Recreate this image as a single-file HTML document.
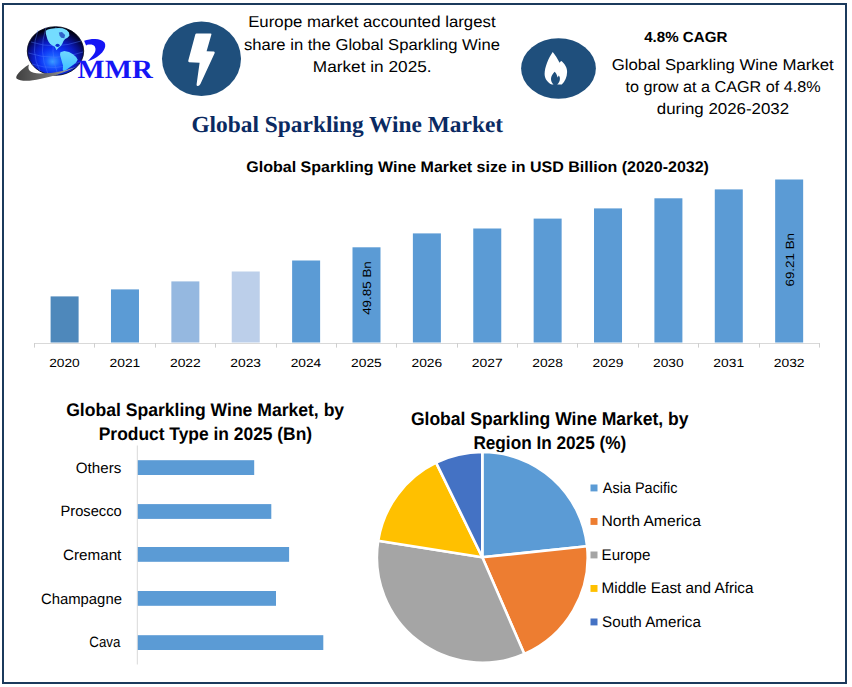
<!DOCTYPE html><html><head><meta charset="utf-8"><style>*{margin:0;padding:0}html,body{width:852px;height:687px;background:#fff;overflow:hidden}svg{position:absolute;left:0;top:0;display:block}text{font-family:"Liberation Sans",sans-serif}.sf{font-family:"Liberation Serif",serif}</style></head><body>
<svg width="852" height="687" viewBox="0 0 852 687" text-rendering="geometricPrecision">
<defs>
<linearGradient id="sa" x1="0" y1="0" x2="0" y2="1"><stop offset="0" stop-color="#70d8ff"/><stop offset="1" stop-color="#3cc0ff"/></linearGradient>
<radialGradient id="gl" cx="0.5" cy="0.66" r="0.62" fx="0.45" fy="0.72">
<stop offset="0" stop-color="#3a9cff"/><stop offset="0.2" stop-color="#1a5cff"/><stop offset="0.42" stop-color="#0c30f0"/><stop offset="0.62" stop-color="#0a1cc0"/><stop offset="0.78" stop-color="#070e80"/><stop offset="0.9" stop-color="#030640"/><stop offset="1" stop-color="#000010"/>
</radialGradient>
<linearGradient id="sw" x1="0" y1="0" x2="1" y2="0">
<stop offset="0" stop-color="#404040"/><stop offset="0.6" stop-color="#777"/><stop offset="1" stop-color="#b5b5b5"/>
</linearGradient>
</defs>
<rect x="3" y="4" width="843" height="679" fill="none" stroke="#1b3a5c" stroke-width="2"/>
<ellipse cx="55.5" cy="51" rx="28.2" ry="24.3" fill="url(#gl)" stroke="#000418" stroke-width="0.8"/>
<g stroke="#4d7bff" stroke-width="0.6" fill="none" opacity="0.7"><path d="M31,42 Q55,50 81,41"/><path d="M28.5,53 Q55,62 83,52"/><path d="M32,64 Q55,72 80,62"/><path d="M38,30 Q30,52 40,71"/><path d="M46,27.5 Q38,52 48,74"/><path d="M56,27 Q49,52 58,75.3"/></g>
<path d="M45.8,30.7 L47.8,29.5 L50.9,28.7 L54.9,28.3 L58.8,27.9 L62.7,28.3 L66.7,29.9 L69,32.6 L69.4,35.8 L67.5,37.8 L65.1,38.9 L63.5,40.9 L62.3,43.7 L60.8,46 L58.8,47.6 L57.2,49.2 L56.4,50.3 L55.7,48.4 L54.5,46.4 L52.5,45.6 L50.2,44 L48.6,41.7 L47.4,39.3 L46.6,36.6 L45.8,33.4 Z" fill="#74dcff"/>
<path d="M58.8,32.6 L62,31.9 L65.1,35 L64.3,38.2 L61.2,37.8 L59.6,35.8 Z" fill="#1a3ab8" opacity="0.75"/>
<ellipse cx="57.6" cy="45.3" rx="2.1" ry="1.6" fill="#0a30d0"/>
<path d="M60.4,52.3 L64.3,51.1 L69,51.9 L73,54.3 L76.1,57 L77.7,59.8 L76.1,62.5 L73,64.9 L69.8,67.2 L66.7,69.6 L63.9,72 L62.7,69.6 L63.1,65.7 L61.9,61.7 L60.8,57.8 L60,54.7 Z" fill="url(#sa)"/>
<path d="M29,64.5 C27,70 30,73.5 40,73.5 C55,73.5 68,70 78,66 C68,71 55,76 40,79 C30,81.5 20,81.5 16.5,78.5 C15,76 20,70 29,64.5 Z" fill="url(#sw)"/>
<path d="M84.1,40.7 C88,39.2 92,38.8 95.3,38.9 C99,39 102.5,40.2 104.5,42.4 C105.8,44.5 105.3,47.5 104,49.8 C102,53.5 98,56.5 94,58.8 C91.5,60 89.5,60.8 87.9,61 C89.5,59.5 92.5,56 94.4,53.3 C95.6,51 96,48.5 94.8,46.4 C93.8,44.8 91,44.3 88.7,44.6 C87.5,44.7 86.7,45.1 86.1,45.5 Z" fill="#1515f5"/>
<text class="sf" x="77.57" y="77.5" font-size="26.5" font-weight="bold" fill="#1515f5" textLength="75.14" lengthAdjust="spacingAndGlyphs">MMR</text>
<ellipse cx="201.5" cy="58.8" rx="39.5" ry="37.2" fill="#1f4f7c"/>
<path d="M196.5,33.4 L210.5,33.4 Q211.8,33.4 211.4,34.6 L206.6,51.2 L213.8,51.6 Q215.2,52 214.6,53.2 L200.4,84 Q198.8,86.8 197,85.8 Q196.4,85.3 196.6,84.3 L199.6,62.7 L189.2,62.2 Q187.8,62 188.3,60.6 L195.3,34.4 Q195.6,33.4 196.5,33.4 Z" fill="#fff"/>
<ellipse cx="558.5" cy="68.5" rx="37.4" ry="30.2" fill="#1f4f7c"/>
<path d="M552.7,51.9 C555,54.5 557.5,58.5 559.6,62.7 C560.2,61.8 560.8,61.2 561.5,61 C565,64 567.3,68 567.1,72 C567,77 565,81.5 561.8,84.4 L557.2,84.6 C559,83 560,80.5 559.9,78.4 C559.8,77 559.2,76 558.6,75.6 C558.4,76.5 558,77.2 557.6,77.5 C557,75 556,73 554.6,71.8 C552.5,74 551,76.5 551,79 C551,81.5 552.2,83.5 553.5,84.6 L552,84.6 C548,83 544.6,79 544.6,74 C544.6,67 548.5,58 552.7,51.9 Z" fill="#fff"/>
<text x="248.16" y="27.0" font-size="15.8" fill="#000" textLength="247.44" lengthAdjust="spacingAndGlyphs">Europe market accounted largest</text>
<text x="244.00" y="49.5" font-size="15.8" fill="#000" textLength="255.89" lengthAdjust="spacingAndGlyphs">share in the Global Sparkling Wine</text>
<text x="312.82" y="71.8" font-size="15.8" fill="#000" textLength="118.78" lengthAdjust="spacingAndGlyphs">Market in 2025.</text>
<text x="644.17" y="41.6" font-size="14.7" font-weight="bold" fill="#000" textLength="83.15" lengthAdjust="spacingAndGlyphs">4.8% CAGR</text>
<text x="611.76" y="69.5" font-size="15.6" fill="#000" textLength="221.97" lengthAdjust="spacingAndGlyphs">Global Sparkling Wine Market</text>
<text x="625.46" y="92" font-size="15.6" fill="#000" textLength="195.23" lengthAdjust="spacingAndGlyphs">to grow at a CAGR of 4.8%</text>
<text x="656.82" y="113.5" font-size="15.6" fill="#000" textLength="132.32" lengthAdjust="spacingAndGlyphs">during 2026-2032</text>
<text class="sf" x="191.43" y="131.8" font-size="23" font-weight="bold" fill="#0a2a62" textLength="311.70" lengthAdjust="spacingAndGlyphs">Global Sparkling Wine Market</text>
<text x="246.26" y="171.7" font-size="15.3" font-weight="bold" fill="#000" textLength="462.71" lengthAdjust="spacingAndGlyphs">Global Sparkling Wine Market size in USD Billion (2020-2032)</text>
<rect x="34" y="343" width="786" height="1" fill="#d9d9d9"/>
<rect x="34" y="343" width="1" height="4.6" fill="#cfcfcf"/>
<rect x="94" y="343" width="1" height="4.6" fill="#cfcfcf"/>
<rect x="155" y="343" width="1" height="4.6" fill="#cfcfcf"/>
<rect x="215" y="343" width="1" height="4.6" fill="#cfcfcf"/>
<rect x="276" y="343" width="1" height="4.6" fill="#cfcfcf"/>
<rect x="336" y="343" width="1" height="4.6" fill="#cfcfcf"/>
<rect x="396" y="343" width="1" height="4.6" fill="#cfcfcf"/>
<rect x="457" y="343" width="1" height="4.6" fill="#cfcfcf"/>
<rect x="517" y="343" width="1" height="4.6" fill="#cfcfcf"/>
<rect x="577" y="343" width="1" height="4.6" fill="#cfcfcf"/>
<rect x="638" y="343" width="1" height="4.6" fill="#cfcfcf"/>
<rect x="698" y="343" width="1" height="4.6" fill="#cfcfcf"/>
<rect x="759" y="343" width="1" height="4.6" fill="#cfcfcf"/>
<rect x="819" y="343" width="1" height="4.6" fill="#cfcfcf"/>
<rect x="50.60" y="296.4" width="28" height="46.10" fill="#4e88bb"/>
<text x="49.21" y="366.7" font-size="11.9" fill="#000" textLength="30.56" lengthAdjust="spacingAndGlyphs">2020</text>
<rect x="110.98" y="289.4" width="28" height="53.10" fill="#5b9bd5"/>
<text x="109.59" y="366.7" font-size="11.9" fill="#000" textLength="30.71" lengthAdjust="spacingAndGlyphs">2021</text>
<rect x="171.36" y="281.4" width="28" height="61.10" fill="#95b8e0"/>
<text x="169.97" y="366.7" font-size="11.9" fill="#000" textLength="30.78" lengthAdjust="spacingAndGlyphs">2022</text>
<rect x="231.74" y="271.5" width="28" height="71.00" fill="#bccfea"/>
<text x="230.35" y="366.7" font-size="11.9" fill="#000" textLength="30.64" lengthAdjust="spacingAndGlyphs">2023</text>
<rect x="292.12" y="260.5" width="28" height="82.00" fill="#5b9bd5"/>
<text x="290.73" y="366.7" font-size="11.9" fill="#000" textLength="30.49" lengthAdjust="spacingAndGlyphs">2024</text>
<rect x="352.50" y="247.3" width="28" height="95.20" fill="#5b9bd5"/>
<text x="351.11" y="366.7" font-size="11.9" fill="#000" textLength="30.64" lengthAdjust="spacingAndGlyphs">2025</text>
<rect x="412.88" y="233.4" width="28" height="109.10" fill="#5b9bd5"/>
<text x="411.49" y="366.7" font-size="11.9" fill="#000" textLength="30.64" lengthAdjust="spacingAndGlyphs">2026</text>
<rect x="473.26" y="228.5" width="28" height="114.00" fill="#5b9bd5"/>
<text x="471.87" y="366.7" font-size="11.9" fill="#000" textLength="30.78" lengthAdjust="spacingAndGlyphs">2027</text>
<rect x="533.64" y="218.6" width="28" height="123.90" fill="#5b9bd5"/>
<text x="532.25" y="366.7" font-size="11.9" fill="#000" textLength="30.64" lengthAdjust="spacingAndGlyphs">2028</text>
<rect x="594.02" y="208.4" width="28" height="134.10" fill="#5b9bd5"/>
<text x="592.63" y="366.7" font-size="11.9" fill="#000" textLength="30.71" lengthAdjust="spacingAndGlyphs">2029</text>
<rect x="654.40" y="198.3" width="28" height="144.20" fill="#5b9bd5"/>
<text x="653.01" y="366.7" font-size="11.9" fill="#000" textLength="30.56" lengthAdjust="spacingAndGlyphs">2030</text>
<rect x="714.78" y="189.4" width="28" height="153.10" fill="#5b9bd5"/>
<text x="713.39" y="366.7" font-size="11.9" fill="#000" textLength="30.71" lengthAdjust="spacingAndGlyphs">2031</text>
<rect x="775.16" y="179.5" width="28" height="163.00" fill="#5b9bd5"/>
<text x="773.77" y="366.7" font-size="11.9" fill="#000" textLength="30.78" lengthAdjust="spacingAndGlyphs">2032</text>
<text transform="translate(370.7,0) rotate(-90)" x="-314.87" y="0" font-size="11.8" fill="#000" textLength="53.69" lengthAdjust="spacingAndGlyphs">49.85 Bn</text>
<text transform="translate(794.0,0) rotate(-90)" x="-286.57" y="0" font-size="11.8" fill="#000" textLength="53.59" lengthAdjust="spacingAndGlyphs">69.21 Bn</text>
<text x="66.20" y="415.7" font-size="18.2" font-weight="bold" fill="#000" textLength="277.94" lengthAdjust="spacingAndGlyphs">Global Sparkling Wine Market, by</text>
<text x="98.77" y="439.7" font-size="18.2" font-weight="bold" fill="#000" textLength="213.34" lengthAdjust="spacingAndGlyphs">Product Type in 2025 (Bn)</text>
<rect x="136.8" y="445.5" width="1" height="219" fill="#d9d9d9"/>
<rect x="137.8" y="460.2" width="116.4" height="14.8" fill="#5b9bd5"/>
<text x="75.82" y="472.6" font-size="15" fill="#000" textLength="45.43" lengthAdjust="spacingAndGlyphs">Others</text>
<rect x="137.8" y="504.1" width="133.5" height="14.8" fill="#5b9bd5"/>
<text x="60.53" y="515.6" font-size="15" fill="#000" textLength="61.21" lengthAdjust="spacingAndGlyphs">Prosecco</text>
<rect x="137.8" y="547" width="151.3" height="14.8" fill="#5b9bd5"/>
<text x="62.94" y="559.9" font-size="15" fill="#000" textLength="58.41" lengthAdjust="spacingAndGlyphs">Cremant</text>
<rect x="137.8" y="591" width="138.2" height="14.8" fill="#5b9bd5"/>
<text x="40.96" y="603.8" font-size="15" fill="#000" textLength="80.96" lengthAdjust="spacingAndGlyphs">Champagne</text>
<rect x="137.8" y="635.2" width="185.5" height="14.8" fill="#5b9bd5"/>
<text x="89.33" y="646.8" font-size="15" fill="#000" textLength="31.06" lengthAdjust="spacingAndGlyphs">Cava</text>
<text x="410.90" y="424.7" font-size="18.4" font-weight="bold" fill="#000" textLength="277.64" lengthAdjust="spacingAndGlyphs">Global Sparkling Wine Market, by</text>
<text x="473.38" y="448.7" font-size="18.4" font-weight="bold" fill="#000" textLength="152.91" lengthAdjust="spacingAndGlyphs">Region In 2025 (%)</text>
<path d="M482.3,557.3 L482.30,451.90 A105.4,105.4 0 0 1 587.12,546.28 Z" fill="#5b9bd5" stroke="#fff" stroke-width="2.6" stroke-linejoin="round"/>
<path d="M482.3,557.3 L587.12,546.28 A105.4,105.4 0 0 1 524.33,653.96 Z" fill="#ed7d31" stroke="#fff" stroke-width="2.6" stroke-linejoin="round"/>
<path d="M482.3,557.3 L524.33,653.96 A105.4,105.4 0 0 1 378.20,540.81 Z" fill="#a5a5a5" stroke="#fff" stroke-width="2.6" stroke-linejoin="round"/>
<path d="M482.3,557.3 L378.20,540.81 A105.4,105.4 0 0 1 436.10,462.57 Z" fill="#ffc000" stroke="#fff" stroke-width="2.6" stroke-linejoin="round"/>
<path d="M482.3,557.3 L436.10,462.57 A105.4,105.4 0 0 1 482.30,451.90 Z" fill="#4472c4" stroke="#fff" stroke-width="2.6" stroke-linejoin="round"/>
<rect x="590.5" y="484.5" width="7" height="6.9" fill="#5b9bd5"/>
<text x="602.80" y="492.7" font-size="15.4" fill="#000" textLength="74.74" lengthAdjust="spacingAndGlyphs">Asia Pacific</text>
<rect x="590.5" y="518.0" width="7" height="6.9" fill="#ed7d31"/>
<text x="601.55" y="526.2" font-size="15.4" fill="#000" textLength="99.37" lengthAdjust="spacingAndGlyphs">North America</text>
<rect x="590.5" y="551.5" width="7" height="6.9" fill="#a5a5a5"/>
<text x="601.59" y="559.7" font-size="15.4" fill="#000" textLength="48.89" lengthAdjust="spacingAndGlyphs">Europe</text>
<rect x="590.5" y="585.0" width="7" height="6.9" fill="#ffc000"/>
<text x="601.58" y="593.2" font-size="15.4" fill="#000" textLength="151.92" lengthAdjust="spacingAndGlyphs">Middle East and Africa</text>
<rect x="590.5" y="618.5" width="7" height="6.9" fill="#4472c4"/>
<text x="602.12" y="626.7" font-size="15.4" fill="#000" textLength="98.76" lengthAdjust="spacingAndGlyphs">South America</text>
</svg></body></html>
